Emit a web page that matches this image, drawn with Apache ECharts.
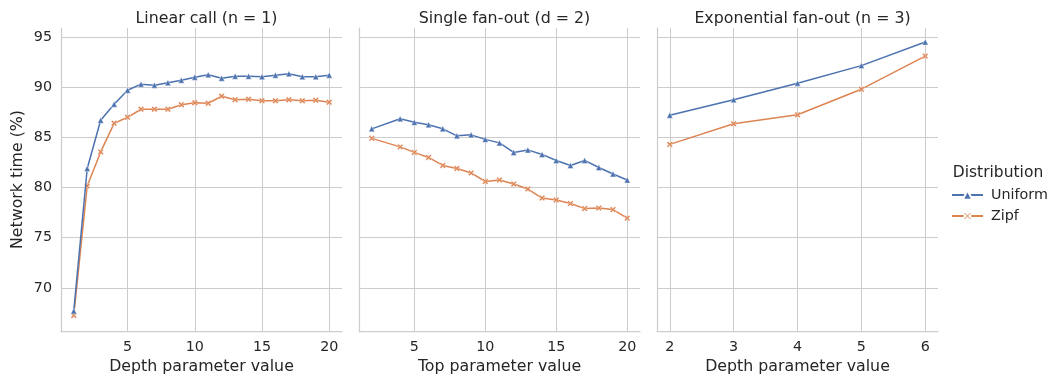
<!DOCTYPE html>
<html>
<head>
<meta charset="utf-8">
<script src="https://cdn.jsdelivr.net/npm/echarts@6/dist/echarts.min.js"></script>
<style>
  html, body { margin: 0; padding: 0; background: #fff; }
  #chart { width: 1048px; height: 380px; }
</style>
</head>
<body>
<div id="chart"></div>
<script>
// panel 1: linear call, depth 1..20
const linearDepth = [1, 2, 3, 4, 5, 6, 7, 8, 9, 10, 11, 12, 13, 14, 15, 16, 17, 18, 19, 20]
const linearUniform = [67.7, 81.9, 86.7, 88.3, 89.7, 90.3, 90.2, 90.45, 90.7, 91.0, 91.25, 90.9, 91.1, 91.1, 91.05, 91.2, 91.35, 91.05, 91.05, 91.2]
const linearZipf = [67.25, 80.15, 83.55, 86.4, 87.0, 87.8, 87.8, 87.8, 88.25, 88.45, 88.4, 89.1, 88.75, 88.8, 88.65, 88.65, 88.75, 88.65, 88.7, 88.5]

// panel 2: single fan-out, top 2,4..20
const fanTop = [2, 4, 5, 6, 7, 8, 9, 10, 11, 12, 13, 14, 15, 16, 17, 18, 19, 20]
const fanUniform = [85.85, 86.85, 86.5, 86.25, 85.85, 85.15, 85.25, 84.8, 84.45, 83.5, 83.75, 83.3, 82.7, 82.2, 82.7, 82.0, 81.35, 80.75]
const fanZipf = [84.9, 84.05, 83.5, 83.0, 82.2, 81.9, 81.45, 80.6, 80.75, 80.35, 79.85, 78.95, 78.75, 78.4, 77.9, 77.95, 77.8, 76.95]

// panel 3: exponential fan-out, depth 2..6
const expDepth = [2, 3, 4, 5, 6]
const expUniform = [87.2, 88.75, 90.4, 92.15, 94.5]
const expZipf = [84.3, 86.35, 87.25, 89.8, 93.1]

const panelTitles = ['Linear call (n = 1)', 'Single fan-out (d = 2)', 'Exponential fan-out (n = 3)']
const xNames = ['Depth parameter value', 'Top parameter value', 'Depth parameter value']
const seriesNames = ['Uniform', 'Zipf']

const BLUE = '#4c72b0'
const ORANGE = '#dd8452'
const TXT = '#262626'
const GRID = '#cccccc'
const FONT = 'DejaVu Sans'
const X_MARK = 'path://M0,2 L2,0 L5,3 L8,0 L10,2 L7,5 L10,8 L8,10 L5,7 L2,10 L0,8 L3,5 Z'

const chart = echarts.init(document.getElementById('chart'))

const lefts = [61, 359, 657]
const plotW = 281
const xRanges = [[0.05, 20.95], [1.1, 20.9], [1.8, 6.2]]

const zip = (xs, ys) => xs.map((x, i) => [x, ys[i]])

function makeSeries(name, data, idx) {
  const uni = name === 'Uniform'
  return {
    name: name,
    type: 'line',
    xAxisIndex: idx,
    yAxisIndex: idx,
    data: data,
    symbol: uni ? 'triangle' : X_MARK,
    symbolSize: 6,
    showSymbol: true,
    lineStyle: { width: 1.5, color: uni ? BLUE : ORANGE },
    itemStyle: { color: uni ? BLUE : ORANGE, borderColor: '#fff', borderWidth: 0.4 },
    emphasis: { disabled: true },
    z: uni ? 3 : 2,
  }
}

const option = {
  backgroundColor: '#fff',
  animation: false,
  textStyle: { fontFamily: FONT, color: TXT },
  title: panelTitles.map((t, i) => ({
    text: t,
    left: lefts[i] + plotW / 2,
    top: 6,
    textAlign: 'center',
    textStyle: { fontFamily: FONT, fontSize: 15.8, fontWeight: 'normal', color: TXT },
  })).concat([{
    text: 'Distribution',
    left: 993,
    top: 160,
    textAlign: 'center',
    textStyle: { fontFamily: FONT, fontSize: 15.5, fontWeight: 'normal', color: TXT },
  }]),
  legend: {
    orient: 'vertical',
    left: 946,
    top: 183,
    itemWidth: 31,
    itemHeight: 12,
    itemGap: 7,
    data: seriesNames,
    textStyle: { fontFamily: FONT, fontSize: 14.3, color: TXT, padding: [0, 0, 0, 3] },
  },
  grid: lefts.map(l => ({ left: l, top: 28, width: plotW, height: 303 })),
  xAxis: lefts.map((l, i) => ({
    type: 'value',
    gridIndex: i,
    min: xRanges[i][0],
    max: xRanges[i][1],
    splitNumber: 4,
    name: xNames[i],
    nameLocation: 'middle',
    nameGap: 27,
    nameTextStyle: { fontFamily: FONT, fontSize: 15.8, color: TXT },
    axisLine: { show: true, lineStyle: { color: GRID, width: 1.25 } },
    axisTick: { show: false },
    axisLabel: { fontFamily: FONT, fontSize: 14.3, color: TXT, margin: 9, showMinLabel: false, showMaxLabel: false },
    splitLine: { show: true, showMinLine: false, showMaxLine: false, lineStyle: { color: GRID, width: 1 } },
  })),
  yAxis: lefts.map((l, i) => ({
    type: 'value',
    gridIndex: i,
    min: 65.7,
    max: 95.9,
    splitNumber: 6,
    name: i === 0 ? 'Network time (%)' : '',
    nameLocation: 'middle',
    nameGap: 35,
    nameTextStyle: { fontFamily: FONT, fontSize: 15.8, color: TXT },
    axisLine: { show: true, lineStyle: { color: GRID, width: 1.25 } },
    axisTick: { show: false },
    axisLabel: { show: i === 0, fontFamily: FONT, fontSize: 14.3, color: TXT, margin: 9, showMinLabel: false, showMaxLabel: false },
    splitLine: { show: true, showMinLine: false, showMaxLine: false, lineStyle: { color: GRID, width: 1 } },
  })),
  series: [
    makeSeries('Uniform', zip(linearDepth, linearUniform), 0),
    makeSeries('Zipf', zip(linearDepth, linearZipf), 0),
    makeSeries('Uniform', zip(fanTop, fanUniform), 1),
    makeSeries('Zipf', zip(fanTop, fanZipf), 1),
    makeSeries('Uniform', zip(expDepth, expUniform), 2),
    makeSeries('Zipf', zip(expDepth, expZipf), 2),
  ],
}

chart.setOption(option)
</script>
</body>
</html>
